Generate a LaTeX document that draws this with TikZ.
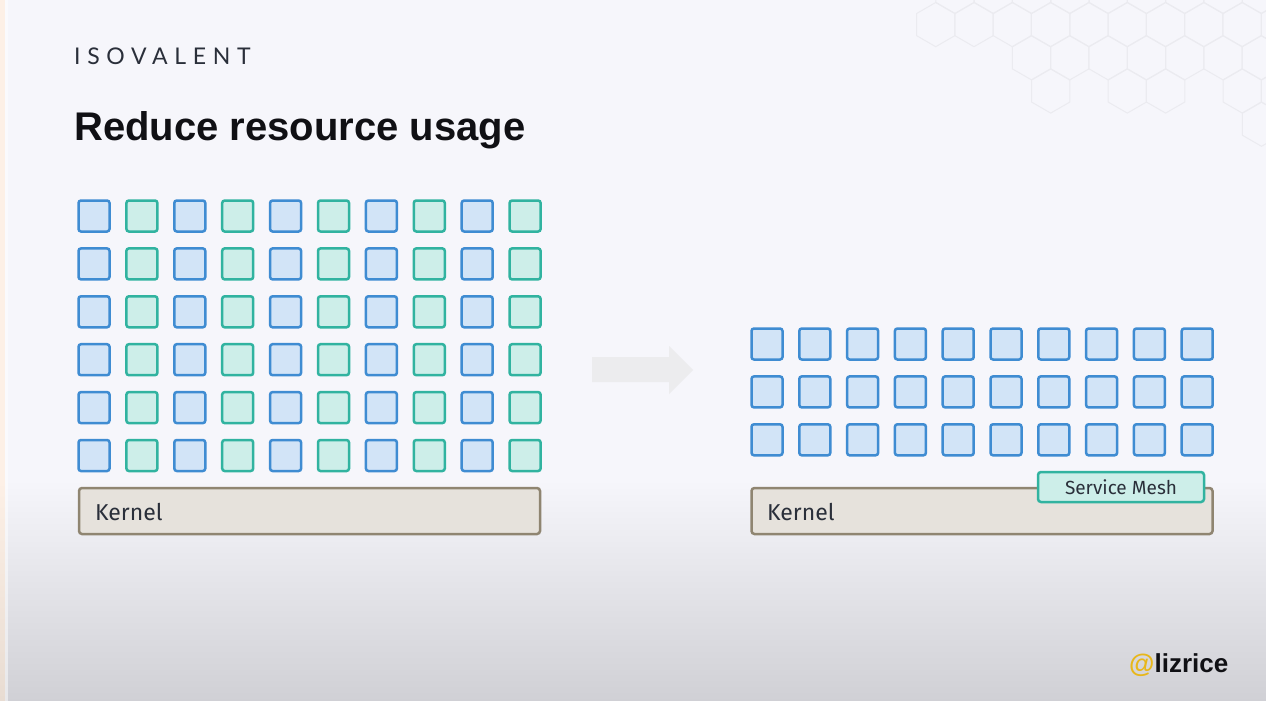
\documentclass[tikz,border=0pt]{standalone}
\usepackage{fontspec}
\setmainfont{Liberation Sans}
\newfontfamily\labelfont{Fira Sans}
\newfontfamily\logofont[LetterSpace=29]{Lato}
\begin{document}
\begin{tikzpicture}[x=1pt,y=-1pt,
    podblue/.style={draw=kBlue,fill=kBlueFill,line width=2.5pt,rounded corners=2.5pt,
      minimum size=31pt,inner sep=0pt},
    podteal/.style={draw=kTeal,fill=kTealFill,line width=2.5pt,rounded corners=2.5pt,
      minimum size=31pt,inner sep=0pt},
    kernelbox/.style={draw=kBrown,fill=kBrownFill,line width=2.5pt,rounded corners=3pt,
      minimum width=461pt,minimum height=46pt,inner sep=0pt},
    boxtext/.style={font=\labelfont,text=kInk,inner sep=0pt,anchor=base west}]
  \definecolor{kPage}{HTML}{F6F6FB}
  \definecolor{kPageLow}{HTML}{D0D0D5}
  \definecolor{kHex}{HTML}{EBEBF0}
  \definecolor{kArrow}{HTML}{ECECEE}
  \definecolor{kBlue}{HTML}{3F8CD2}
  \definecolor{kBlueFill}{HTML}{D2E4F7}
  \definecolor{kTeal}{HTML}{31B3A0}
  \definecolor{kTealFill}{HTML}{CDEEE9}
  \definecolor{kBrown}{HTML}{8F8571}
  \definecolor{kBrownFill}{HTML}{E6E2DC}
  \definecolor{kInk}{HTML}{2A2F3A}
  \definecolor{kTitle}{HTML}{101014}
  \definecolor{kGold}{HTML}{E8B71A}
  \definecolor{kStrip}{HTML}{FDF0E6}
  \definecolor{kStripLow}{HTML}{E8DCD2}

  \useasboundingbox (0,0) rectangle (1266,701);

  % page
  \fill[kPage] (0,0) rectangle (1266,701);
  \shade[top color=kPage,bottom color=kPageLow] (0,480) rectangle (1266,701);
  \fill[kStrip] (0,0) rectangle (5,480);
  \shade[top color=kStrip,bottom color=kStripLow] (0,480) rectangle (5,701);
  \fill[white,opacity=0.5] (5,0) rectangle (8,701);

  % hexagons
  \foreach \x/\y in {
      955/-8.6,993.3/-8.6,1031.6/-8.6,1069.9/-8.6,1108.2/-8.6,1146.5/-8.6,1184.8/-8.6,1223.1/-8.6,1261.4/-8.6,
      935.7/24.6,974/24.6,1012.3/24.6,1050.6/24.6,1088.9/24.6,1127.2/24.6,1165.5/24.6,1203.8/24.6,1242.1/24.6,1280.4/24.6,
      1031.5/57.8,1069.8/57.8,1108.1/57.8,1146.4/57.8,1184.7/57.8,1223/57.8,1261.3/57.8,
      1050.7/91,1127.3/91,1165.6/91,1242.3/91,1280.6/91,
      1261.5/124.2
    }
  {
    \draw[kHex,line width=1pt] (\x,\y-22.1) -- (\x+19.15,\y-11.05) -- (\x+19.15,\y+11.05)
      -- (\x,\y+22.1) -- (\x-19.15,\y+11.05) -- (\x-19.15,\y-11.05) -- cycle;
  }

  % titles
  \node[font=\logofont\fontsize{23}{23}\selectfont,text=kInk,inner sep=0pt,anchor=base west] (logo) at (74,65) {ISOVALENT};
  \node[font=\bfseries\fontsize{40}{40}\selectfont,text=kTitle,inner sep=0pt,anchor=base west] (title) at (74,140) {Reduce resource usage};

  % left cells
  \foreach \c in {0,2,4,6,8}
    \foreach \r in {0,...,5}
    {
      \node[podblue] (left\c\r) at (94+47.9*\c,216+47.9*\r) {};
    }
  \foreach \c in {1,3,5,7,9}
    \foreach \r in {0,...,5}
    {
      \node[podteal] (left\c\r) at (94+47.9*\c,216+47.9*\r) {};
    }

  % right cells
  \foreach \c in {0,...,9}
    \foreach \r in {0,1,2}
    {
      \node[podblue] (right\c\r) at (767+47.8*\c,344+47.9*\r) {};
    }

  % kernels
  \node[kernelbox] (kernelleft) at (309.5,511) {};
  \node[boxtext,font=\labelfont\fontsize{23}{23}\selectfont] (kernelleftlabel) at (95,520) {Kernel};
  \node[kernelbox] (kernelright) at (982,511) {};
  \node[boxtext,font=\labelfont\fontsize{23}{23}\selectfont] (kernelrightlabel) at (767,520) {Kernel};

  % service mesh
  \node[draw=kTeal,fill=kTealFill,line width=2.5pt,rounded corners=3pt,minimum width=166pt,
    minimum height=30pt,inner sep=0pt,font=\labelfont\fontsize{19}{19}\selectfont,text=kInk] (mesh) at (1121,487) {Service Mesh};

  % arrow
  \fill[kArrow] (592,357) -- (669,357) -- (669,346) -- (693,370) -- (669,394) -- (669,382) -- (592,382) -- cycle;

  % handle
  \node[font=\bfseries\fontsize{26}{26}\selectfont,text=kTitle,inner sep=0pt,anchor=base west] (handle) at (1129,672) {\textcolor{kGold}{@}lizrice};

\end{tikzpicture}
\end{document}
